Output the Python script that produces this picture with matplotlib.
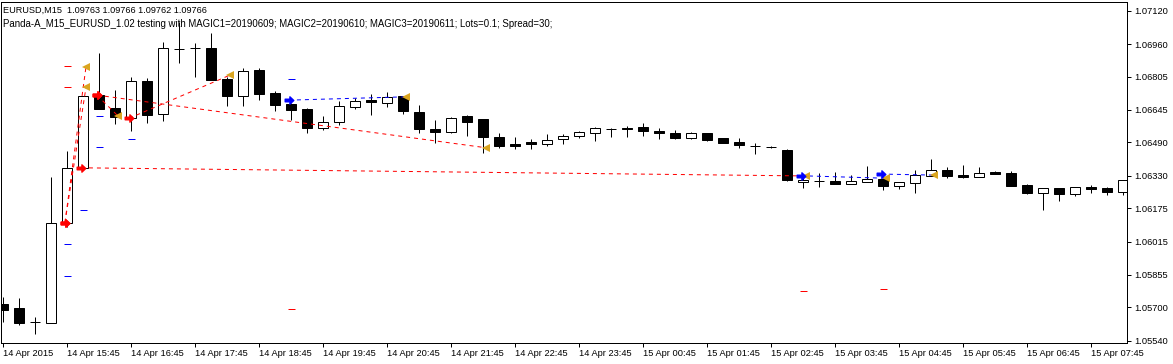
import matplotlib
matplotlib.use("Agg")
import matplotlib.pyplot as plt
from matplotlib.patches import Rectangle
from matplotlib.path import Path

plt.rcParams['font.family'] = ['Liberation Sans', 'DejaVu Sans']

# -------------------------- DATOS --------------------------
opens = [1.05718, 1.05697, 1.05631, 1.05623, 1.06102, 1.06365, 1.06716, 1.06656, 1.06605, 1.06783,
         1.06624, 1.06937, 1.06940, 1.06940, 1.06793, 1.06713, 1.06836, 1.06725, 1.06672, 1.06649,
         1.06560, 1.06586, 1.06660, 1.06692, 1.06677, 1.06712, 1.06634, 1.06554, 1.06541, 1.06616,
         1.06601, 1.06514, 1.06480, 1.06490, 1.06480, 1.06504, 1.06520, 1.06533, 1.06555, 1.06558,
         1.06563, 1.06544, 1.06534, 1.06512, 1.06534, 1.06512, 1.06491, 1.06474, 1.06469, 1.06453,
         1.06301, 1.06305, 1.06305, 1.06292, 1.06301, 1.06314, 1.06282, 1.06296, 1.06330, 1.06357,
         1.06333, 1.06322, 1.06348, 1.06341, 1.06285, 1.06246, 1.06270, 1.06241, 1.06277, 1.06270,
         1.06253]
highs = [1.05751, 1.05746, 1.05655, 1.06325, 1.06448, 1.06712, 1.06916, 1.06740, 1.06801, 1.06796,
         1.06970, 1.07067, 1.06964, 1.07012, 1.06804, 1.06844, 1.06844, 1.06737, 1.06680, 1.06656,
         1.06616, 1.06688, 1.06703, 1.06721, 1.06732, 1.06712, 1.06668, 1.06597, 1.06612, 1.06621,
         1.06601, 1.06533, 1.06514, 1.06504, 1.06528, 1.06528, 1.06544, 1.06565, 1.06557, 1.06568,
         1.06582, 1.06557, 1.06549, 1.06538, 1.06534, 1.06512, 1.06511, 1.06488, 1.06474, 1.06458,
         1.06325, 1.06341, 1.06346, 1.06333, 1.06376, 1.06325, 1.06301, 1.06357, 1.06408, 1.06370,
         1.06381, 1.06370, 1.06354, 1.06354, 1.06289, 1.06270, 1.06273, 1.06277, 1.06285, 1.06277,
         1.06309]
lows = [1.05631, 1.05615, 1.05571, 1.05623, 1.06086, 1.06365, 1.06648, 1.06578, 1.06545, 1.06584,
        1.06593, 1.06868, 1.06801, 1.06788, 1.06664, 1.06664, 1.06692, 1.06641, 1.06597, 1.06536,
        1.06549, 1.06573, 1.06649, 1.06621, 1.06660, 1.06625, 1.06533, 1.06485, 1.06533, 1.06521,
        1.06440, 1.06464, 1.06459, 1.06459, 1.06474, 1.06480, 1.06512, 1.06496, 1.06517, 1.06517,
        1.06520, 1.06507, 1.06504, 1.06504, 1.06498, 1.06488, 1.06463, 1.06434, 1.06463, 1.06305,
        1.06270, 1.06277, 1.06289, 1.06289, 1.06301, 1.06261, 1.06266, 1.06246, 1.06330, 1.06320,
        1.06318, 1.06322, 1.06338, 1.06282, 1.06241, 1.06166, 1.06210, 1.06234, 1.06246, 1.06238,
        1.06238]
closes = [1.05689, 1.05626, 1.05631, 1.06102, 1.06365, 1.06712, 1.06648, 1.06610, 1.06783, 1.06621,
          1.06940, 1.06937, 1.06940, 1.06788, 1.06713, 1.06831, 1.06721, 1.06670, 1.06645, 1.06560,
          1.06586, 1.06664, 1.06688, 1.06681, 1.06708, 1.06641, 1.06552, 1.06541, 1.06605, 1.06589,
          1.06514, 1.06474, 1.06474, 1.06480, 1.06501, 1.06520, 1.06541, 1.06560, 1.06555, 1.06552,
          1.06545, 1.06533, 1.06512, 1.06534, 1.06502, 1.06488, 1.06476, 1.06474, 1.06469, 1.06309,
          1.06309, 1.06305, 1.06292, 1.06305, 1.06314, 1.06282, 1.06298, 1.06333, 1.06357, 1.06330,
          1.06322, 1.06341, 1.06339, 1.06282, 1.06246, 1.06270, 1.06241, 1.06277, 1.06268, 1.06253,
          1.06309]

time_labels = ["14 Apr 2015", "14 Apr 15:45", "14 Apr 16:45", "14 Apr 17:45", "14 Apr 18:45",
               "14 Apr 19:45", "14 Apr 20:45", "14 Apr 21:45", "14 Apr 22:45", "14 Apr 23:45",
               "15 Apr 00:45", "15 Apr 01:45", "15 Apr 02:45", "15 Apr 03:45", "15 Apr 04:45",
               "15 Apr 05:45", "15 Apr 06:45", "15 Apr 07:45"]
price_ticks = [1.07120, 1.06960, 1.06805, 1.06645, 1.06490, 1.06330,
               1.06175, 1.06015, 1.05855, 1.05700, 1.05540]

# operaciones: barra/precio de apertura y cierre
trade_color = ['red', 'red', 'red', 'red', 'red', 'red', 'blue', 'blue', 'blue']
open_bar = [4, 4, 5, 6, 6, 8, 18, 50, 55]
open_price = [1.06105, 1.06105, 1.06368, 1.06716, 1.06716, 1.06605, 1.06692, 1.06330, 1.06338]
close_bar = [5, 5, 50, 7, 30, 14, 25, 55, 58]
close_price = [1.06853, 1.06755, 1.06329, 1.06616, 1.06464, 1.06812, 1.06708, 1.06318, 1.06333]

# niveles SL/TP (guiones cortos)
level_bar = [4, 4, 4, 4, 5, 6, 6, 8, 18, 18, 50, 55]
level_price = [1.06855, 1.06755, 1.06003, 1.05850, 1.06166, 1.06616, 1.06466, 1.06506,
               1.06792, 1.05690, 1.05778, 1.05787]
level_color = ['red', 'red', 'blue', 'blue', 'blue', 'blue', 'blue', 'blue',
               'blue', 'red', 'red', 'red']

title1 = "EURUSD,M15  1.09763 1.09766 1.09762 1.09766"
title2 = ("Panda-A_M15_EURUSD_1.02 testing with MAGIC1=20190609; MAGIC2=20190610; "
          "MAGIC3=20190611; Lots=0.1; Spread=30;")

# -------------------------- FIGURA --------------------------
W, H = 1173, 364
fig = plt.figure(figsize=(W / 100, H / 100), dpi=100)
ax = fig.add_axes([1 / W, (H - 343) / H, 1126 / W, 341 / H])

px = 0.72  # 1 pixel en puntos
body_w = 0.64
for i, (o, h, l, c) in enumerate(zip(opens, highs, lows, closes)):
    ax.vlines(i, l, h, color='black', lw=px, zorder=2)
    if abs(c - o) < 1e-6:
        ax.hlines(o, i - body_w / 2, i + body_w / 2, color='black', lw=px, zorder=3)
    else:
        fc = 'black' if c < o else 'white'
        ax.add_patch(Rectangle((i - body_w / 2, min(o, c)), body_w, abs(c - o),
                               facecolor=fc, edgecolor='black', lw=px, zorder=3))

# flecha de entrada
arrow = Path([(-1, -0.3), (0.1, -0.3), (0.1, -0.85), (1, 0), (0.1, 0.85), (0.1, 0.3),
              (-1, 0.3), (-1, -0.3)],
             [Path.MOVETO] + [Path.LINETO] * 6 + [Path.CLOSEPOLY])

for col, ob, op, cb, cp in zip(trade_color, open_bar, open_price, close_bar, close_price):
    x0, x1 = ob - 0.15, cb + 0.17
    ax.plot([x0, x1], [op, cp], color=col, lw=px, linestyle=(0, (4, 4)), zorder=4)
    ax.plot(x0, op, marker=arrow, color=col, markersize=6.2, zorder=6)
    ax.plot(x1, cp, marker='<', color='#DAA520', markersize=5.5, markeredgewidth=0, zorder=6)

for b, p, col in zip(level_bar, level_price, level_color):
    ax.hlines(p, b - 0.22, b + 0.22, color=col, lw=px, zorder=5)

ax.set_xlim(-0.145, 70.23)
ax.set_ylim(1.05529, 1.07162)

ax.yaxis.tick_right()
ax.set_yticks(price_ticks)
ax.set_yticklabels([f"{v:.5f}" for v in price_ticks])
ax.set_xticks(range(0, 4 * len(time_labels), 4))
ax.set_xticklabels(time_labels)
for lab in ax.get_xticklabels():
    lab.set_horizontalalignment('left')
ax.tick_params(axis='both', labelsize=6.7, length=3, width=px, direction='out', pad=2)
ax.tick_params(axis='x', pad=1.5)
for s in ax.spines.values():
    s.set_linewidth(px)

fig.text(3 / W, 1 - 10.7 / H, title1, fontsize=6.6, va='center', ha='left')
fig.text(3 / W, 1 - 24 / H, title2, fontsize=6.9, va='center', ha='left')

fig.savefig("out.png", dpi=100)
